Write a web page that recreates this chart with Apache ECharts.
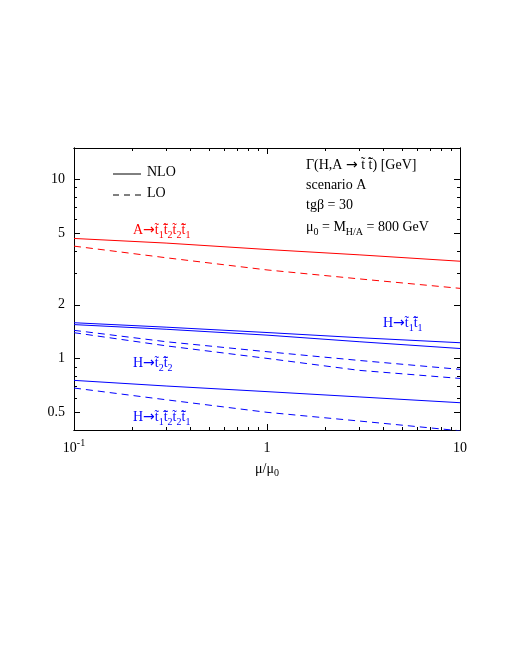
<!DOCTYPE html>
<html>
<head>
<meta charset="utf-8">
<script src="https://cdn.jsdelivr.net/npm/echarts@6/dist/echarts.min.js"></script>
<style>
  html, body { margin: 0; padding: 0; background: #fff; }
  #chart { width: 510px; height: 660px; }
</style>
</head>
<body>
<div id="chart"></div>
<script>
// scale mu/mu0 where the curves were read
const muRatio = [0.1, 0.3, 1, 3, 10];

// widths in GeV
const aNLO = [4.69, 4.42, 4.07, 3.80, 3.50];
const aLO = [4.25, 3.66, 3.13, 2.79, 2.47];
const h11NLO = [1.588, 1.50, 1.40, 1.31, 1.228];
const h22NLO = [1.55, 1.46, 1.354, 1.244, 1.14];
const h11LO = [1.44, 1.244, 1.094, 0.978, 0.872];
const h22LO = [1.397, 1.18, 1.004, 0.861, 0.776];
const h12NLO = [0.757, 0.704, 0.655, 0.612, 0.568];
const h12LO = [0.686, 0.59, 0.502, 0.449, 0.396];

const xMajor = [0.1, 1, 10];
const xMinor = [0.2, 0.3, 0.4, 0.5, 0.6, 0.7, 0.8, 0.9, 2, 3, 4, 5, 6, 7, 8, 9];
const yMajor = [0.5, 1, 2, 5, 10];
const yMinor = [0.4, 0.6, 0.7, 0.8, 0.9, 3, 4, 6, 7, 8, 9];
const xRange = [0.1, 10];
const yRange = [0.4, 15];

const RED = '#ff0000';
const BLUE = '#0000ff';
const FONT = '"Liberation Serif", "DejaVu Serif", serif';

const lg = Math.log10;
const chart = echarts.init(document.getElementById('chart'));

const pts = vals => muRatio.map((x, i) => [lg(x), lg(vals[i])]);
const line = (vals, color, dashed) => ({
  type: 'line',
  data: pts(vals),
  symbol: 'none',
  silent: true,
  lineStyle: { color: color, width: 1, type: dashed ? [7, 5] : 'solid' },
  z: 3
});

const sub = { fontSize: 10, fontFamily: FONT, lineHeight: 10, padding: [9, 0, 0, 0] };
const sup = { fontSize: 10, fontFamily: FONT, lineHeight: 10, padding: [0, 0, 9, 0] };
const txt = color => ({ fontSize: 14, fontFamily: FONT, color: color, lineHeight: 16 });
const arrow = color => ({ fontSize: 14, fontFamily: '"DejaVu Sans"', color: color, lineHeight: 16 });

function xAxisDef(pos, ticks, len, labels) {
  return {
    type: 'value', position: pos, min: lg(xRange[0]), max: lg(xRange[1]),
    axisLine: { show: true, onZero: false, lineStyle: { color: '#000', width: 1 } },
    axisTick: { show: true, inside: true, length: len, customValues: ticks.map(lg), lineStyle: { color: '#000' } },
    axisLabel: labels ? {
      customValues: ticks.map(lg), margin: 10, color: '#000',
      formatter: v => Math.abs(v + 1) < 1e-6 ? '{n|10}{p|-1}' : (Math.abs(v) < 1e-6 ? '{n|1}' : '{n|10}'),
      rich: { n: txt('#000'), p: sup }
    } : { show: false },
    splitLine: { show: false }
  };
}
function yAxisDef(pos, ticks, len, labels) {
  return {
    type: 'value', position: pos, min: lg(yRange[0]), max: lg(yRange[1]),
    axisLine: { show: true, onZero: false, lineStyle: { color: '#000', width: 1 } },
    axisTick: { show: true, inside: true, length: len, customValues: ticks.map(lg), lineStyle: { color: '#000' } },
    axisLabel: labels ? {
      customValues: ticks.map(lg), margin: 9, color: '#000',
      fontSize: 14, fontFamily: FONT,
      formatter: v => String(Math.round(Math.pow(10, v) * 10) / 10)
    } : { show: false },
    splitLine: { show: false }
  };
}

const label = (x, y, rich, color) => ({
  type: 'text', left: x, top: y - 9, silent: true,
  style: {
    text: rich, fill: color,
    rich: { n: txt(color), s: sub, a: arrow(color) }
  }
});

const option = {
  backgroundColor: '#fff',
  animation: false,
  grid: { left: 74, right: 50, top: 148, bottom: 230 },
  xAxis: [
    Object.assign(xAxisDef('bottom', xMajor, 6, true), {
      name: '{n|μ/μ}{s|0}', nameLocation: 'middle', nameGap: 31,
      nameTextStyle: { rich: { n: txt('#000'), s: sub } }
    }),
    xAxisDef('bottom', xMinor, 3, false),
    xAxisDef('top', xMajor, 6, false),
    xAxisDef('top', xMinor, 3, false)
  ],
  yAxis: [
    yAxisDef('left', yMajor, 6, true),
    yAxisDef('left', yMinor, 3, false),
    yAxisDef('right', yMajor, 6, false),
    yAxisDef('right', yMinor, 3, false)
  ],
  series: [
    line(aNLO, RED, false),
    line(aLO, RED, true),
    line(h11NLO, BLUE, false),
    line(h22NLO, BLUE, false),
    line(h11LO, BLUE, true),
    line(h22LO, BLUE, true),
    line(h12NLO, BLUE, false),
    line(h12LO, BLUE, true)
  ],
  graphic: [
    { type: 'line', silent: true, shape: { x1: 113, y1: 174, x2: 141, y2: 174 }, style: { stroke: '#000', lineWidth: 1 } },
    { type: 'line', silent: true, shape: { x1: 113, y1: 195, x2: 141, y2: 195 }, style: { stroke: '#000', lineWidth: 1, lineDash: [6, 5] } },
    label(147, 174, '{n|NLO}', '#000'),
    label(147, 195, '{n|LO}', '#000'),
    label(306, 167, '{n|Γ(H,A }{a|→}{n| t\u0303 t\u0304\u0303) [GeV]}', '#000'),
    label(306, 187, '{n|scenario A}', '#000'),
    label(306, 207, '{n|tgβ = 30}', '#000'),
    label(306, 227, '{n|μ}{s|0}{n| = M}{s|H/A}{n| = 800 GeV}', '#000'),
    label(133, 230, '{n|A}{a|→}{n|t\u0303}{s|1}{n|t\u0304\u0303}{s|2}{n|t\u0303}{s|2}{n|t\u0304\u0303}{s|1}', RED),
    label(383, 323, '{n|H}{a|→}{n|t\u0303}{s|1}{n|t\u0304\u0303}{s|1}', BLUE),
    label(133, 363, '{n|H}{a|→}{n|t\u0303}{s|2}{n|t\u0304\u0303}{s|2}', BLUE),
    label(133, 417, '{n|H}{a|→}{n|t\u0303}{s|1}{n|t\u0304\u0303}{s|2}{n|t\u0303}{s|2}{n|t\u0304\u0303}{s|1}', BLUE)
  ]
};

chart.setOption(option);
</script>
</body>
</html>
